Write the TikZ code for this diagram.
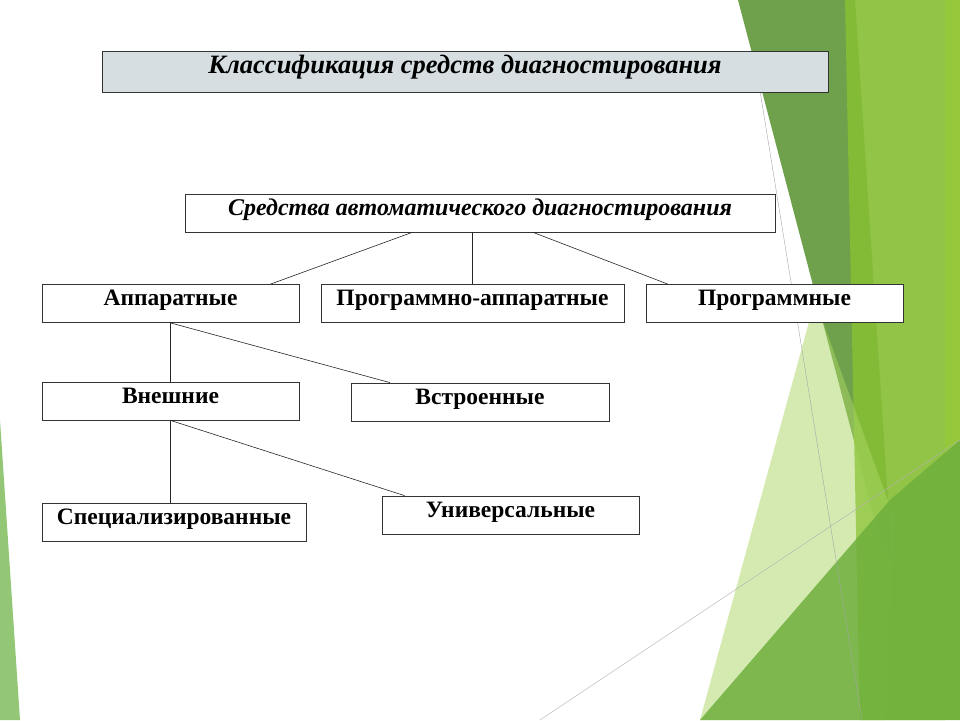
\documentclass[tikz,border=0pt]{standalone}
\usepackage{fontspec}
\setmainfont{Liberation Serif}
\usetikzlibrary{calc}
\begin{document}
\begin{tikzpicture}[x=1pt,y=-1pt,
 box/.style={draw=black!80,line width=0.8pt,fill=white,minimum height=38pt,inner sep=0pt,text height=0.68em,text depth=0.2em,font=\bfseries\fontsize{23.5}{26}\selectfont},
 ln/.style={draw=black!85,line width=0.6pt}]
\useasboundingbox (0,0) rectangle (960,720);
\fill[white] (0,0) rectangle (960,720);
% background
\fill[green!50!lime!60!black!60,opacity=0.9] (0,420) -- (20,720) -- (0,720) -- cycle;
\fill[color={rgb,255:red,111;green,160;blue,75}] (738,0) -- (855,0) -- (892,560) -- (880,540) -- cycle;
\fill[color={rgb,255:red,134;green,190;blue,52},opacity=0.9] (845,0) -- (945,0) -- (945,720) -- (860,720) -- cycle;
\fill[color={rgb,255:red,150;green,200;blue,60}] (945,0) rectangle (960,720);
\fill[color={rgb,255:red,170;green,215;blue,100},opacity=0.5] (815,300) -- (895,520) -- (885,720) -- (700,720) -- cycle;
\fill[color={rgb,255:red,110;green,175;blue,60},opacity=0.85] (700,720) -- (890,500) -- (960,440) -- (960,720) -- cycle;
\draw[gray!70,line width=0.4pt] (755,60) -- (862,720);
\draw[gray!60,line width=0.4pt] (540,720) -- (960,440);
% nodes
\node[box,fill={rgb,255:red,214;green,222;blue,226},minimum width=726pt,minimum height=41pt,font=\bfseries\itshape\fontsize{26.5}{30}\selectfont] (title) at (465,71.5) {Классификация средств диагностирования};
\node[box,minimum width=590pt,font=\bfseries\itshape\fontsize{24}{28}\selectfont] (auto) at (480,213) {Средства автоматического диагностирования};
\node[box,minimum width=257pt] (hw) at (170.5,303.5) {Аппаратные};
\node[box,minimum width=303pt] (hs) at (472.5,303.5) {Программно-аппаратные};
\node[box,minimum width=257pt] (sw) at (774.5,303.5) {Программные};
\node[box,minimum width=257pt] (ext) at (170.5,401) {Внешние};
\node[box,minimum width=258pt] (emb) at (480,402) {Встроенные};
\node[box,minimum width=264pt] (spec) at (174,522) {Специализированные};
\node[box,minimum width=257pt] (univ) at (510.5,515) {Универсальные};
% connectors
\draw[ln] ($(auto.south west)!0.385!(auto.south east)$) -- ($(hw.north west)!0.888!(hw.north east)$);
\draw[ln] (auto.south -| hs.north) -- (hs.north);
\draw[ln] ($(auto.south west)!0.59!(auto.south east)$) -- ($(sw.north west)!0.086!(sw.north east)$);
\draw[ln] (hw.south) -- (ext.north);
\draw[ln] (hw.south) -- ($(emb.north west)!0.152!(emb.north east)$);
\draw[ln] (ext.south) -- (ext.south |- spec.north);
\draw[ln] (ext.south) -- ($(univ.north west)!0.089!(univ.north east)$);
\end{tikzpicture}
\end{document}
